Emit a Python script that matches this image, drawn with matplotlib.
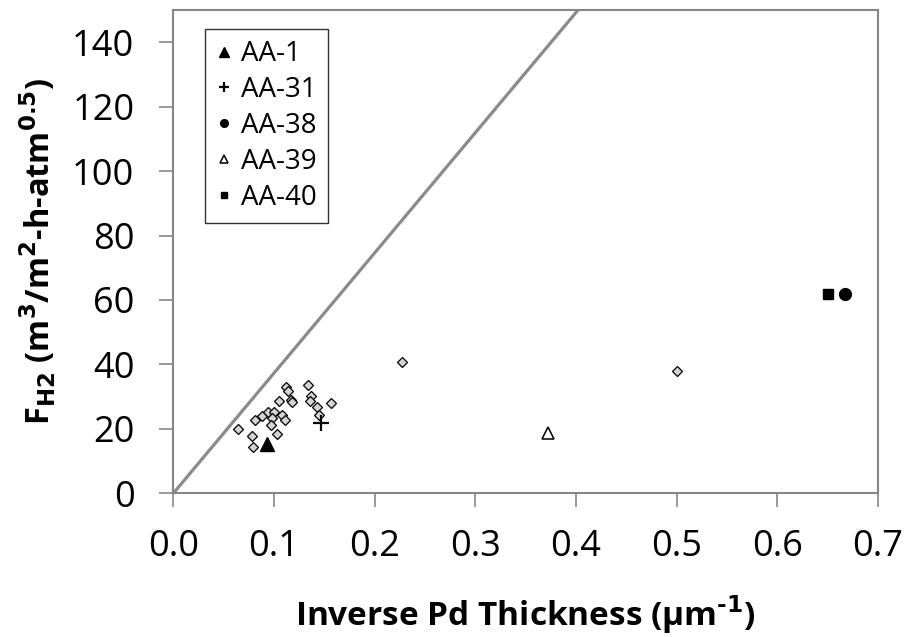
import matplotlib
matplotlib.use("Agg")
import matplotlib.pyplot as plt

plt.rcParams['font.family'] = ['Open Sans', 'DejaVu Sans']

# unlabeled samples (grey diamonds)
other_x = [0.2275, 0.064, 0.078, 0.079, 0.081, 0.088, 0.094, 0.100, 0.098, 0.097,
           0.103, 0.108, 0.111, 0.105, 0.112, 0.114, 0.117, 0.118, 0.1335, 0.137,
           0.136, 0.143, 0.145, 0.157, 0.500]
other_y = [40.9, 20.1, 17.8, 14.4, 22.7, 24.0, 25.3, 25.2, 23.3, 21.2,
           18.4, 24.3, 22.8, 28.7, 33.1, 31.6, 29.0, 28.4, 33.6, 30.2,
           28.8, 26.9, 24.3, 27.9, 38.1]

# legend series
aa1_x, aa1_y = [0.093], [15.2]
aa31_x, aa31_y = [0.147], [21.7]
aa38_x, aa38_y = [0.667], [61.7]
aa39_x, aa39_y = [0.372], [18.8]
aa40_x, aa40_y = [0.650], [61.9]

# reference line
line_x = [0.0, 0.42]
line_y = [0.0, 156.7]

fig = plt.figure(figsize=(9.08, 6.37), dpi=100)
ax = fig.add_axes([0.1909, 0.2256, 0.967 - 0.1909, 0.9843 - 0.2256])

ax.plot(line_x, line_y, color='#8a8a8a', lw=2.3, zorder=2)

ax.plot(other_x, other_y, linestyle='none', marker='D', markersize=5.4,
        markerfacecolor='#d4d4d4', markeredgecolor='black', markeredgewidth=0.9,
        label='_nolegend_', zorder=3)

ax.plot(aa1_x, aa1_y, linestyle='none', marker='^', markersize=10,
        color='black', label='AA-1', zorder=4)
ax.plot(aa31_x, aa31_y, linestyle='none', marker='+', markersize=11,
        markeredgewidth=1.6, color='black', label='AA-31', zorder=4)
ax.plot(aa38_x, aa38_y, linestyle='none', marker='o', markersize=8.5,
        color='black', label='AA-38', zorder=4)
ax.plot(aa39_x, aa39_y, linestyle='none', marker='^', markersize=8.5,
        markerfacecolor='white', markeredgecolor='black', markeredgewidth=1.1,
        label='AA-39', zorder=4)
ax.plot(aa40_x, aa40_y, linestyle='none', marker='s', markersize=7.5,
        color='black', label='AA-40', zorder=4)

ax.set_xlim(0, 0.7)
ax.set_ylim(0, 150)
ax.set_xticks([0.0, 0.1, 0.2, 0.3, 0.4, 0.5, 0.6, 0.7])
ax.set_xticklabels(['0.0', '0.1', '0.2', '0.3', '0.4', '0.5', '0.6', '0.7'])
ax.set_yticks([0, 20, 40, 60, 80, 100, 120, 140])

for s in ax.spines.values():
    s.set_color('#868686')
    s.set_linewidth(1.5)
ax.tick_params(axis='both', colors='#868686', labelcolor='black', width=1.2,
               length=10, labelsize=26)
ax.tick_params(axis='x', pad=16)
ax.tick_params(axis='y', pad=18)

ax.set_xlabel('Inverse Pd Thickness (\u00b5m$^{\\mathbf{\u2010}\\mathbf{1}}$)', fontsize=24,
              fontweight='bold', labelpad=20)
ax.set_ylabel('F$_{\\mathbf{H2}}$ (m$^{\\mathbf{3}}$/m$^{\\mathbf{2}}$-h-atm$^{\\mathbf{0.5}}$)',
              fontsize=23.5, fontweight='bold', labelpad=10)

leg = ax.legend(loc='upper left', bbox_to_anchor=(0.045, 0.96), fontsize=20,
                frameon=True, fancybox=False, handlelength=0.6, handletextpad=0.3,
                borderpad=0.4, labelspacing=0.28, markerscale=0.65,
                borderaxespad=0)
leg.get_frame().set_edgecolor('black')
leg.get_frame().set_linewidth(1.0)

plt.savefig('out.png', dpi=100)
